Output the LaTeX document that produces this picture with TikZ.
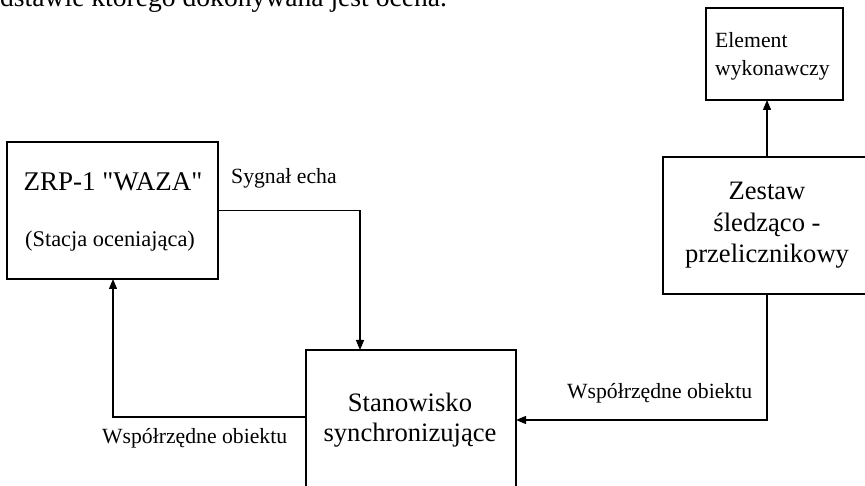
\documentclass[tikz,border=0pt]{standalone}
\usepackage{fontspec}
\setmainfont{Liberation Serif}[Ligatures=TeXOff]
\usetikzlibrary{arrows.meta}
\tikzset{
  boxnode/.style={draw=black, line width=1.2pt, rectangle, inner sep=0pt, outer sep=0pt},
  big/.style={font=\fontsize{26.6}{31}\selectfont, inner sep=0pt, anchor=base},
  small/.style={font=\fontsize{21.7}{28}\selectfont, inner sep=0pt},
  link/.style={line width=1.2pt},
  arr/.style={link, -{Triangle[length=10pt,width=8pt]}},
}
\begin{document}
\begin{tikzpicture}[x=1pt,y=-1pt]
\clip (0,0) rectangle (865,486);
\fill[white] (0,0) rectangle (865,486);
% boxes
\node[boxnode, minimum width=211pt, minimum height=137pt] (zrp) at (112.5,210.5) {};
\node[boxnode, minimum width=210pt, minimum height=140pt] (stan) at (411,420) {};
\node[boxnode, minimum width=208pt, minimum height=137pt] (zes) at (767,225.5) {};
\node[boxnode, minimum width=137pt, minimum height=92pt] (elem) at (774.5,54) {};
% texts
\node[big, font=\fontsize{27}{32}\selectfont] (zrpA) at (113,191) {ZRP-1 "WAZA"};
\node[small, font=\fontsize{22.4}{28}\selectfont, anchor=base] (zrpB) at (110,246.5) {(Stacja oceniająca)};
\node[small, anchor=base west] (echo) at (231,184) {Sygnał echa};
\node[small, anchor=base west] (wspA) at (102,443) {Współrzędne obiektu};
\node[small, anchor=base west] (wspB) at (567,399) {Współrzędne obiektu};
\node[big] (stanA) at (410,411) {Stanowisko};
\node[big] (stanB) at (410,441) {synchronizujące};
\node[big] (zesA) at (767,200) {Zestaw};
\node[big] (zesB) at (767,232) {śledząco -};
\node[big] (zesC) at (767,263) {przelicznikowy};
\node[small, anchor=base west] (elA) at (715,48) {Element};
\node[small, anchor=base west] (elB) at (715,76) {wykonawczy};
\node[anchor=base west, inner sep=0pt, font=\fontsize{27.6}{32}\selectfont] (toptext) at (0,6.5) {dstawie którego dokonywana jest ocena.};
% connectors
\draw[arr] (zrp.east) -| ([xshift=54pt]stan.north west);
\draw[arr] ([yshift=3pt]stan.west) -| ([xshift=106pt]zrp.south west);
\draw[arr] (zes.south) |- (stan.east);
\draw[arr] (zes.north) -- (zes.north |- elem.south);
\end{tikzpicture}
\end{document}
